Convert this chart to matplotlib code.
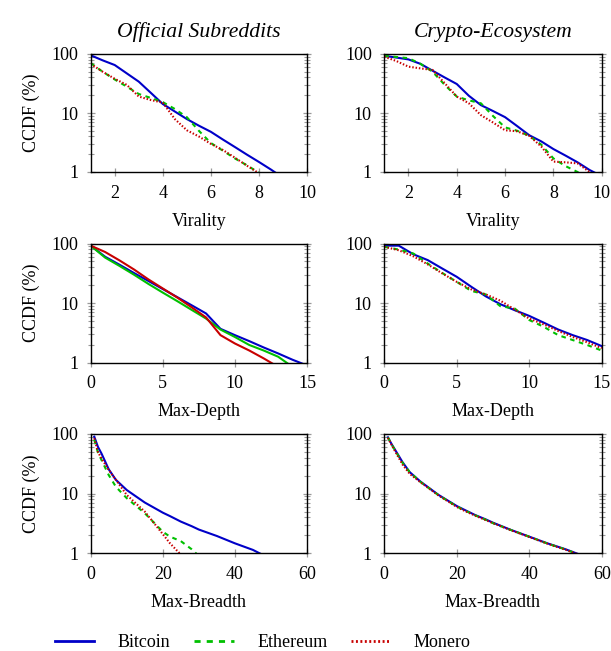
import numpy as np
import matplotlib
matplotlib.use("Agg")
import matplotlib.pyplot as plt
from matplotlib.lines import Line2D

plt.rcParams['font.family'] = ['Liberation Serif', 'DejaVu Serif']
plt.rcParams['font.size'] = 13

# series names and styles
names = ["Bitcoin", "Ethereum", "Monero"]
col_titles = ["Official Subreddits", "Crypto-Ecosystem"]
row_labels = ["Virality", "Max-Depth", "Max-Breadth"]

# --- Virality (CCDF %) ---
vir_x = [1, 1.5, 2, 2.5, 3, 3.5, 4, 4.5, 5, 5.5, 6, 6.5, 7, 7.5, 8, 8.5, 9, 9.5, 10]
vir_off_btc = [95, 78, 65, 47, 34, 22, 14.2, 10.6, 7.9, 6.1, 4.8, 3.55, 2.65, 1.97, 1.48, 1.1, 0.8, 0.6, 0.5]
vir_off_eth = [70, 50, 37, 28, 21, 18, 15.3, 11.7, 8.5, 5.0, 3.1, 2.3, 1.7, 1.3, 0.97, 0.7, 0.5, 0.4, 0.3]
vir_off_xmr = [68, 50, 38, 30, 19, 16.6, 15, 7.9, 5.1, 4.0, 3.0, 2.36, 1.75, 1.28, 0.95, 0.7, 0.5, 0.4, 0.3]
vir_cry_btc = [93, 87, 81, 68, 52, 40, 31, 19.6, 13.6, 10.8, 8.5, 6.0, 4.2, 3.3, 2.45, 1.9, 1.46, 1.08, 0.85]
vir_cry_eth = [93, 89, 85, 68, 50, 30, 19, 16.4, 14.6, 8.9, 5.7, 5.0, 4.1, 2.9, 1.7, 1.26, 1.0, 0.7, 0.5]
vir_cry_xmr = [90, 76, 61, 57, 53.6, 32, 19, 14.6, 9.2, 6.9, 5.1, 4.9, 4.1, 2.7, 1.5, 1.46, 1.4, 1.0, 0.7]

# --- Max-Depth (CCDF %) ---
dep_x = [0, 1, 2, 3, 4, 5, 6, 7, 8, 9, 10, 11, 12, 13, 14, 15]
dep_off_btc = [92, 60, 44, 32, 23.5, 17.2, 12.6, 9.2, 6.7, 3.7, 2.9, 2.3, 1.8, 1.43, 1.12, 0.9]
dep_off_eth = [92, 58, 42, 30, 21, 15, 10.8, 7.7, 5.5, 3.6, 2.7, 1.98, 1.6, 1.26, 0.85, 0.7]
dep_off_xmr = [92, 72, 52, 36.7, 25, 17.6, 12.4, 8.5, 5.75, 2.9, 2.1, 1.6, 1.18, 0.85, 0.7, 0.6]
dep_cry_btc = [92, 92, 66, 52.6, 38, 27.6, 18.8, 13, 9.6, 7.6, 6.1, 4.7, 3.6, 2.9, 2.4, 1.9]
dep_cry_eth = [88, 79, 68, 46, 32, 22.7, 16, 14, 8.9, 8.1, 5.2, 4.0, 2.9, 2.4, 1.98, 1.6]
dep_cry_xmr = [88, 77, 61, 44.6, 31.5, 22.7, 17, 14, 11, 7.8, 5.5, 4.4, 3.4, 2.7, 2.2, 1.75]

# --- Max-Breadth (CCDF %) ---
bre_x = [1, 2, 3, 5, 7, 10, 15, 20, 22, 25, 28, 30, 35, 40, 45, 50, 53, 55]
bre_off_btc = [90, 61, 47, 25.6, 17, 11.5, 7.1, 4.8, 4.2, 3.4, 2.85, 2.5, 1.95, 1.47, 1.14, 0.8, 0.7, 0.6]
bre_off_eth = [80, 49, 36.6, 20.5, 13, 8.4, 4.7, 2.3, 1.9, 1.6, 1.17, 0.9, 0.6, 0.5, 0.4, 0.3, 0.3, 0.3]
bre_off_xmr = [85, 50, 39, 25, 17, 9.5, 5.0, 2.1, 1.47, 0.95, 0.7, 0.6, 0.5, 0.4, 0.3, 0.3, 0.3, 0.3]
bre_cry_btc = [88, 68, 54, 34, 23, 15.9, 9.5, 6.2, 5.4, 4.4, 3.7, 3.26, 2.46, 1.9, 1.47, 1.17, 1.0, 0.9]
bre_cry_eth = [88, 67, 53, 33, 23, 15.7, 9.4, 6.1, 5.3, 4.35, 3.65, 3.2, 2.45, 1.9, 1.46, 1.16, 0.99, 0.9]
bre_cry_xmr = [86, 66, 51, 31, 21.5, 15.5, 9.3, 6.0, 5.2, 4.3, 3.6, 3.2, 2.43, 1.88, 1.45, 1.15, 0.98, 0.9]

blue = '#0000c8'
green = '#00c000'
red = '#c80000'
styles = [dict(color=blue, ls='-'),
          dict(color=green, ls=(0, (2.2, 2.2))),
          dict(color=red, ls=(0, (0.7, 0.9)))]
solid = [dict(color=blue, ls='-'), dict(color=green, ls='-'), dict(color=red, ls='-')]

panels = [
    [(vir_x, [vir_off_btc, vir_off_eth, vir_off_xmr], styles),
     (vir_x, [vir_cry_btc, vir_cry_eth, vir_cry_xmr], styles)],
    [(dep_x, [dep_off_btc, dep_off_eth, dep_off_xmr], solid),
     (dep_x, [dep_cry_btc, dep_cry_eth, dep_cry_xmr], styles)],
    [(bre_x, [bre_off_btc, bre_off_eth, bre_off_xmr], styles),
     (bre_x, [bre_cry_btc, bre_cry_eth, bre_cry_xmr], styles)],
]
xlims = [(1, 10), (0, 15), (0, 60)]
xticks = [[2, 4, 6, 8, 10], [0, 5, 10, 15], [0, 20, 40, 60]]

W, H = 611, 651
fig = plt.figure(figsize=(W / 100, H / 100), dpi=100)

col_px = [(90.7, 307.0), (384.3, 601.7)]
row_px = [(54.0, 172.0), (243.5, 362.7), (434.0, 553.3)]

for r in range(3):
    for c in range(2):
        x0, x1 = col_px[c]
        y0, y1 = row_px[r]
        ax = fig.add_axes([x0 / W, 1 - y1 / H, (x1 - x0) / W, (y1 - y0) / H])
        xs, series, sty = panels[r][c]
        for ys, st in zip(series, sty):
            ax.plot(xs, ys, lw=1.5, **st)
        ax.set_yscale('log')
        ax.set_ylim(1, 100)
        ax.set_xlim(*xlims[r])
        ax.set_xticks(xticks[r])
        ax.set_yticks([1, 10, 100])
        ax.set_yticklabels(['1', '10', '100'])
        ax.tick_params(axis='x', direction='inout', length=6, width=0.9,
                       color='#999999', top=False, pad=6)
        ax.tick_params(axis='y', which='major', direction='inout', length=6,
                       width=0.9, color='#999999', left=True, right=True, pad=6)
        ax.tick_params(axis='y', which='minor', direction='inout', length=4,
                       width=0.8, color='#999999', left=True, right=True)
        ax.tick_params(axis='x', which='minor', bottom=False, top=False)
        for sp in ax.spines.values():
            sp.set_linewidth(1.0)
        ax.set_xlabel(row_labels[r], labelpad=8)
        if c == 0:
            ax.set_ylabel('CCDF (%)', labelpad=8)
        if r == 0:
            ax.set_title(col_titles[c], style='italic', pad=12)

handles = [Line2D([], [], lw=2, **styles[i]) for i in range(3)]
fig.legend(handles, names, loc='center', bbox_to_anchor=(0.43, 0.013),
           ncol=3, frameon=False, handlelength=2.2, handletextpad=1.3,
           columnspacing=1.3, borderpad=0)

fig.savefig('out.png', dpi=100)
